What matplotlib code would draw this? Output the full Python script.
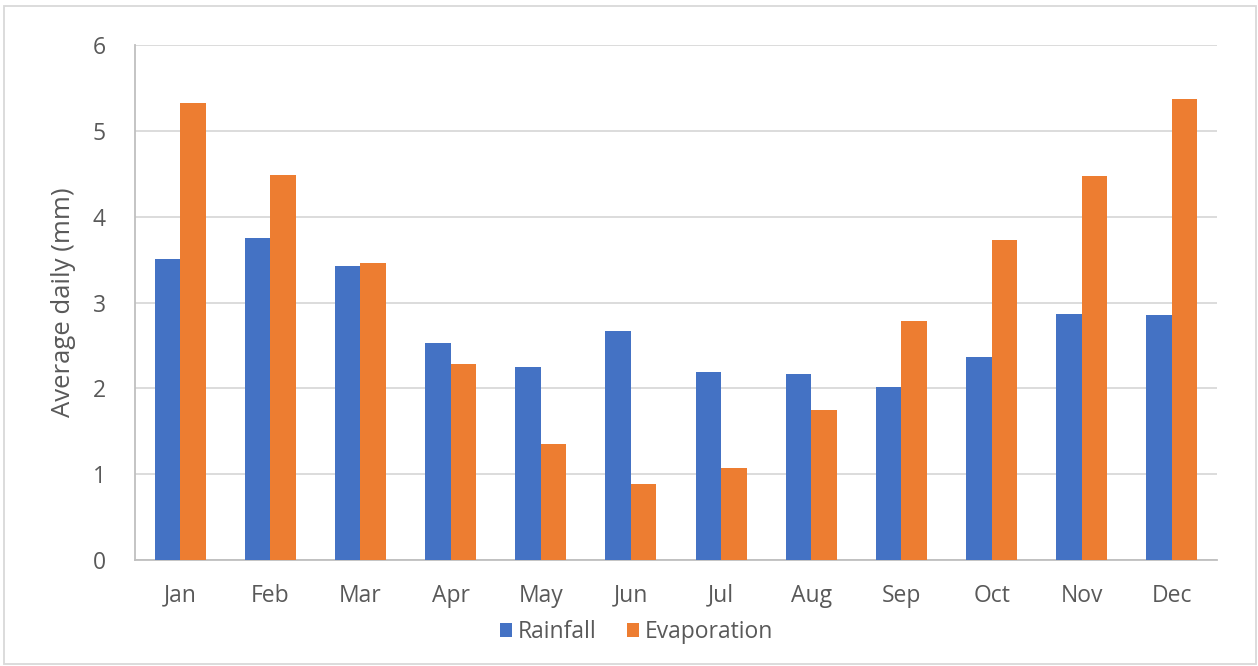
import matplotlib
matplotlib.use('Agg')
import matplotlib.pyplot as plt
from matplotlib.patches import Rectangle
import numpy as np

# chart data
months = ['Jan', 'Feb', 'Mar', 'Apr', 'May', 'Jun', 'Jul', 'Aug', 'Sep', 'Oct', 'Nov', 'Dec']
rainfall = [3.51, 3.75, 3.43, 2.53, 2.25, 2.67, 2.19, 2.17, 2.02, 2.37, 2.87, 2.85]
evaporation = [5.33, 4.48, 3.46, 2.28, 1.35, 0.89, 1.07, 1.75, 2.79, 3.73, 4.47, 5.37]
y_ticks = [0, 1, 2, 3, 4, 5, 6]

text_color = '#595959'
plt.rcParams['font.family'] = ['Open Sans', 'DejaVu Sans']

fig = plt.figure(figsize=(12.58, 6.66), dpi=100)
ax = fig.add_axes([135 / 1258, 106 / 666, 1082 / 1258, 515 / 666])

x = np.arange(len(months))
width = 0.283
ax.bar(x - width / 2, rainfall, width, color='#4472C4', label='Rainfall', zorder=3)
ax.bar(x + width / 2, evaporation, width, color='#ED7D31', label='Evaporation', zorder=3)

ax.set_xlim(-0.5, len(months) - 0.5)
ax.set_ylim(0, 6)
ax.set_yticks(y_ticks)
ax.set_xticks(x)
ax.set_xticklabels(months)
ax.tick_params(axis='both', length=0, labelsize=16.5, colors=text_color)
ax.tick_params(axis='y', pad=21)
ax.tick_params(axis='x', pad=17)
ax.grid(axis='y', color='#D9D9D9', linewidth=1.3, zorder=0)

for side in ['top', 'right']:
    ax.spines[side].set_visible(False)
ax.spines['left'].set_color('#BFBFBF')
ax.spines['bottom'].set_color('#BFBFBF')
ax.spines['left'].set_linewidth(1.3)
ax.spines['bottom'].set_linewidth(1.3)

ax.set_ylabel('Average daily (mm)', fontsize=18.5, color=text_color, labelpad=12)

# legend is centred on the whole chart, not the plot area
fig.legend(*ax.get_legend_handles_labels(), loc='center', bbox_to_anchor=(0.506, 34 / 666), ncol=2,
           frameon=False, fontsize=16.5, labelcolor=text_color, handlelength=0.52, handleheight=0.52,
           handletextpad=0.25, columnspacing=1.35)

# chart border
fig.patches.append(Rectangle((4 / 1258, 2 / 666), 1252 / 1258, 658 / 666, transform=fig.transFigure,
                             fill=False, edgecolor='#D9D9D9', linewidth=1.3))

fig.savefig('out.png', dpi=100)
